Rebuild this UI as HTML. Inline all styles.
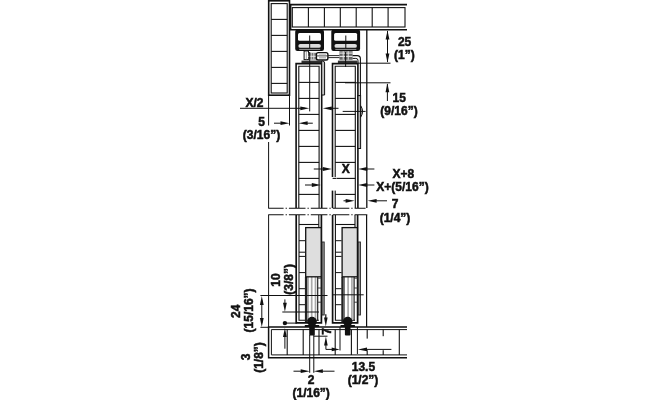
<!DOCTYPE html>
<html><head><meta charset="utf-8"><title>Sliding door fitting dimensions</title>
<style>
html,body{margin:0;padding:0;background:#fff;}
body{width:660px;height:400px;overflow:hidden;}
svg{display:block;}
svg{filter:blur(0.35px);}
svg text{font-family:"Liberation Sans",sans-serif;font-weight:bold;fill:#111;stroke:#111;stroke-width:0.5px;}
</style></head><body>
<svg width="660" height="400" viewBox="0 0 660 400">
<rect x="0" y="0" width="660" height="400" fill="#fff"/>
<rect x="268.7" y="0.8" width="20.8" height="94.4" fill="none" stroke="#111" stroke-width="1.6" rx="0"/>
<rect x="271.2" y="3.6" width="16.0" height="89.4" fill="none" stroke="#111" stroke-width="1.1" rx="0"/>
<line x1="271.2" y1="19.4" x2="287.2" y2="19.4" stroke="#111" stroke-width="1.1" />
<line x1="271.2" y1="35.4" x2="287.2" y2="35.4" stroke="#111" stroke-width="1.1" />
<line x1="271.2" y1="51.4" x2="287.2" y2="51.4" stroke="#111" stroke-width="1.1" />
<line x1="271.2" y1="67.4" x2="287.2" y2="67.4" stroke="#111" stroke-width="1.1" />
<line x1="271.2" y1="83.4" x2="287.2" y2="83.4" stroke="#111" stroke-width="1.1" />
<line x1="268.6" y1="95" x2="268.6" y2="125.5" stroke="#111" stroke-width="1" />
<line x1="268.6" y1="142" x2="268.6" y2="208" stroke="#111" stroke-width="1" />
<line x1="289.5" y1="95" x2="289.5" y2="125.5" stroke="#111" stroke-width="1" />
<line x1="290" y1="4.6" x2="407" y2="4.6" stroke="#111" stroke-width="1.6" />
<line x1="290" y1="29.8" x2="407" y2="29.8" stroke="#111" stroke-width="1.6" />
<line x1="290.6" y1="4" x2="290.6" y2="30" stroke="#111" stroke-width="1.6" />
<rect x="292.3" y="7.6" width="112.7" height="19.4" fill="none" stroke="#111" stroke-width="1.1" rx="0"/>
<line x1="308.4" y1="7.6" x2="308.4" y2="27" stroke="#111" stroke-width="1.1" />
<line x1="324.4" y1="7.6" x2="324.4" y2="27" stroke="#111" stroke-width="1.1" />
<line x1="340.3" y1="7.6" x2="340.3" y2="27" stroke="#111" stroke-width="1.1" />
<line x1="356.2" y1="7.6" x2="356.2" y2="27" stroke="#111" stroke-width="1.1" />
<line x1="372.2" y1="7.6" x2="372.2" y2="27" stroke="#111" stroke-width="1.1" />
<line x1="388.1" y1="7.6" x2="388.1" y2="27" stroke="#111" stroke-width="1.1" />
<rect x="295.2" y="29.6" width="28.8" height="21.4" fill="#111" stroke="#111" stroke-width="0" rx="2.2"/>
<rect x="298.0" y="33.0" width="23.0" height="7.8" fill="#fff" stroke="#111" stroke-width="0" rx="1.5"/>
<rect x="298.4" y="43.9" width="22.4" height="3.9" fill="#ddd" stroke="#111" stroke-width="0" rx="1.9"/>
<line x1="299.2" y1="49.4" x2="320.2" y2="49.4" stroke="#ccc" stroke-width="0.7" />
<line x1="309.7" y1="35.5" x2="309.7" y2="48" stroke="#111" stroke-width="1" />
<rect x="331.3" y="29.6" width="28.8" height="21.4" fill="#111" stroke="#111" stroke-width="0" rx="2.2"/>
<rect x="334.1" y="33.0" width="23.0" height="7.8" fill="#fff" stroke="#111" stroke-width="0" rx="1.5"/>
<rect x="334.5" y="43.9" width="22.4" height="3.9" fill="#ddd" stroke="#111" stroke-width="0" rx="1.9"/>
<line x1="335.3" y1="49.4" x2="356.3" y2="49.4" stroke="#ccc" stroke-width="0.7" />
<line x1="345.8" y1="35.5" x2="345.8" y2="48" stroke="#111" stroke-width="1" />
<rect x="304.1" y="51" width="4.4" height="8.6" fill="#fff" stroke="#111" stroke-width="1" rx="0"/>
<line x1="306.3" y1="51" x2="306.3" y2="59.6" stroke="#888" stroke-width="0.8" />
<rect x="308.5" y="52.8" width="7.8" height="6.8" fill="#777" stroke="#111" stroke-width="0" rx="0"/>
<line x1="308.5" y1="56.3" x2="316.3" y2="56.3" stroke="#fff" stroke-width="0.9" />
<line x1="311.2" y1="52.8" x2="311.2" y2="59.6" stroke="#eee" stroke-width="0.8" />
<line x1="313.8" y1="52.8" x2="313.8" y2="59.6" stroke="#eee" stroke-width="0.8" />
<rect x="339.4" y="51.2" width="13.2" height="8.6" fill="#666" stroke="#111" stroke-width="0" rx="0"/>
<line x1="339.4" y1="53.1" x2="352.6" y2="53.1" stroke="#fff" stroke-width="0.9" />
<line x1="339.4" y1="56.4" x2="352.6" y2="56.4" stroke="#fff" stroke-width="0.9" />
<line x1="343.2" y1="51.2" x2="343.2" y2="59.8" stroke="#eee" stroke-width="0.9" />
<line x1="348.2" y1="51.2" x2="348.2" y2="59.8" stroke="#eee" stroke-width="0.9" />
<rect x="316.4" y="52.6" width="11.5" height="7.4" fill="#fff" stroke="#111" stroke-width="1.4" rx="1.8"/>
<line x1="316.4" y1="55.9" x2="327.9" y2="55.9" stroke="#333" stroke-width="0.9" />
<line x1="319" y1="57.8" x2="326" y2="57.8" stroke="#aaa" stroke-width="1.2" />
<line x1="319" y1="54.2" x2="326" y2="54.2" stroke="#bbb" stroke-width="1.0" />
<line x1="328.2" y1="55.6" x2="339.4" y2="55.6" stroke="#111" stroke-width="0.9" />
<line x1="328.2" y1="57.6" x2="339.4" y2="57.6" stroke="#111" stroke-width="0.9" />
<path d="M352.6 55.6 H357.2 Q360.4 55.6 360.4 58.8 V95.5" fill="none" stroke="#111" stroke-width="1.1"/>
<path d="M352.6 58.4 H355.8 Q358 58.4 358 60.4 V63" fill="none" stroke="#111" stroke-width="1"/>
<rect x="301.5" y="60.6" width="21.3" height="2.4" fill="#333" stroke="#111" stroke-width="0" rx="0"/>
<rect x="337.9" y="60.6" width="19.5" height="2.4" fill="#333" stroke="#111" stroke-width="0" rx="0"/>
<path d="M296.1 208 V63.6 H321.7 V208" fill="none" stroke="#111" stroke-width="1.6"/>
<path d="M298.8 208 V66.2 H319.09999999999997 V208" fill="none" stroke="#111" stroke-width="1.1"/>
<line x1="298.8" y1="82.4" x2="319.09999999999997" y2="82.4" stroke="#111" stroke-width="1.1" />
<line x1="298.8" y1="98.4" x2="319.09999999999997" y2="98.4" stroke="#111" stroke-width="1.1" />
<line x1="298.8" y1="114.4" x2="319.09999999999997" y2="114.4" stroke="#111" stroke-width="1.1" />
<line x1="298.8" y1="130.4" x2="319.09999999999997" y2="130.4" stroke="#111" stroke-width="1.1" />
<line x1="298.8" y1="146.4" x2="319.09999999999997" y2="146.4" stroke="#111" stroke-width="1.1" />
<line x1="298.8" y1="162.4" x2="319.09999999999997" y2="162.4" stroke="#111" stroke-width="1.1" />
<line x1="298.8" y1="178.4" x2="319.09999999999997" y2="178.4" stroke="#111" stroke-width="1.1" />
<line x1="298.8" y1="194.4" x2="319.09999999999997" y2="194.4" stroke="#111" stroke-width="1.1" />
<path d="M332.5 208 V63.6 H357.9 V208" fill="none" stroke="#111" stroke-width="1.6"/>
<path d="M335.2 208 V66.2 H355.29999999999995 V208" fill="none" stroke="#111" stroke-width="1.1"/>
<line x1="335.2" y1="82.4" x2="355.29999999999995" y2="82.4" stroke="#111" stroke-width="1.1" />
<line x1="335.2" y1="98.4" x2="355.29999999999995" y2="98.4" stroke="#111" stroke-width="1.1" />
<line x1="335.2" y1="114.4" x2="355.29999999999995" y2="114.4" stroke="#111" stroke-width="1.1" />
<line x1="335.2" y1="130.4" x2="355.29999999999995" y2="130.4" stroke="#111" stroke-width="1.1" />
<line x1="335.2" y1="146.4" x2="355.29999999999995" y2="146.4" stroke="#111" stroke-width="1.1" />
<line x1="335.2" y1="162.4" x2="355.29999999999995" y2="162.4" stroke="#111" stroke-width="1.1" />
<line x1="335.2" y1="178.4" x2="355.29999999999995" y2="178.4" stroke="#111" stroke-width="1.1" />
<line x1="335.2" y1="194.4" x2="355.29999999999995" y2="194.4" stroke="#111" stroke-width="1.1" />
<rect x="330.8" y="177" width="5.6" height="13.6" fill="#fff" stroke="#111" stroke-width="0" rx="0"/>
<line x1="332.6" y1="178.4" x2="336" y2="178.4" stroke="#111" stroke-width="1.1" />
<line x1="309.7" y1="52" x2="309.7" y2="111.4" stroke="#111" stroke-width="1" />
<line x1="345.6" y1="52" x2="345.6" y2="67" stroke="#111" stroke-width="1" />
<path d="M321.7 61 H322.6 Q324.6 61 324.6 63 V95 H321.7 Z" fill="#c4c4c4" stroke="#111" stroke-width="1"/>
<line x1="358" y1="95.6" x2="360.8" y2="95.6" stroke="#111" stroke-width="1" />
<rect x="358" y="95.6" width="2.6" height="52.9" fill="#b8b8b8" stroke="#111" stroke-width="1" rx="0"/>
<path d="M360.6 105.6 Q364.6 111.4 360.6 117.2 Z" fill="#aaa" stroke="#111" stroke-width="1"/>
<line x1="342.7" y1="111.4" x2="365.6" y2="111.4" stroke="#111" stroke-width="1" />
<line x1="366.8" y1="30" x2="366.8" y2="208" stroke="#111" stroke-width="1.3" />
<line x1="268.2" y1="208.2" x2="365.6" y2="208.2" stroke="#111" stroke-width="1.1" stroke-dasharray="16.6 2 1.3 2" stroke-dashoffset="1.2"/>
<line x1="268.2" y1="214.8" x2="367.3" y2="214.8" stroke="#111" stroke-width="1.1" stroke-dasharray="16.6 2 1.3 2" stroke-dashoffset="1.2"/>
<line x1="268.6" y1="215" x2="268.6" y2="327" stroke="#111" stroke-width="1" />
<line x1="366.6" y1="215" x2="366.6" y2="327" stroke="#111" stroke-width="1.2" />
<path d="M296.2 215 V322.8 H321.4 V215" fill="none" stroke="#111" stroke-width="1.7"/>
<path d="M299.0 215 V320.3 H318.79999999999995 " fill="none" stroke="#111" stroke-width="1.1"/>
<line x1="318.79999999999995" y1="215" x2="318.79999999999995" y2="227.5" stroke="#111" stroke-width="1.1" />
<line x1="299.0" y1="224.5" x2="318.79999999999995" y2="224.5" stroke="#111" stroke-width="1.1" />
<line x1="299.0" y1="240.7" x2="305.2" y2="240.7" stroke="#111" stroke-width="1" />
<line x1="299.0" y1="252.2" x2="305.2" y2="252.2" stroke="#111" stroke-width="1" />
<line x1="299.0" y1="256.4" x2="305.2" y2="256.4" stroke="#111" stroke-width="1" />
<line x1="299.0" y1="272.6" x2="305.2" y2="272.6" stroke="#111" stroke-width="1" />
<line x1="299.0" y1="288.7" x2="305.2" y2="288.7" stroke="#111" stroke-width="1" />
<line x1="299.0" y1="304.7" x2="305.2" y2="304.7" stroke="#111" stroke-width="1" />
<line x1="306.09999999999997" y1="277" x2="306.09999999999997" y2="322" stroke="#222" stroke-width="2.4" />
<line x1="308.09999999999997" y1="277" x2="308.09999999999997" y2="320" stroke="#555" stroke-width="0.8" />
<line x1="311.7" y1="277" x2="311.7" y2="319" stroke="#aaa" stroke-width="1.7" />
<line x1="315.5" y1="277" x2="315.5" y2="319" stroke="#aaa" stroke-width="1.7" />
<line x1="317.7" y1="277" x2="317.7" y2="321" stroke="#222" stroke-width="1.2" />
<line x1="317.7" y1="278.2" x2="321.4" y2="278.2" stroke="#333" stroke-width="0.9" />
<line x1="317.7" y1="288" x2="321.4" y2="288" stroke="#333" stroke-width="0.9" />
<line x1="317.7" y1="302.2" x2="321.4" y2="302.2" stroke="#333" stroke-width="0.9" />
<rect x="305.7" y="227.6" width="15.5" height="49.2" fill="#dedede" stroke="#111" stroke-width="1.3" rx="0"/>
<rect x="322.0" y="242" width="2.2" height="73" fill="#999" stroke="#222" stroke-width="0.9" rx="0"/>
<path d="M332.6 215 V322.8 H357.6 V215" fill="none" stroke="#111" stroke-width="1.7"/>
<path d="M335.40000000000003 215 V320.3 H355.0 " fill="none" stroke="#111" stroke-width="1.1"/>
<line x1="355.0" y1="215" x2="355.0" y2="227.5" stroke="#111" stroke-width="1.1" />
<line x1="335.40000000000003" y1="224.5" x2="355.0" y2="224.5" stroke="#111" stroke-width="1.1" />
<line x1="335.40000000000003" y1="240.7" x2="341.6" y2="240.7" stroke="#111" stroke-width="1" />
<line x1="335.40000000000003" y1="252.2" x2="341.6" y2="252.2" stroke="#111" stroke-width="1" />
<line x1="335.40000000000003" y1="256.4" x2="341.6" y2="256.4" stroke="#111" stroke-width="1" />
<line x1="335.40000000000003" y1="272.6" x2="341.6" y2="272.6" stroke="#111" stroke-width="1" />
<line x1="335.40000000000003" y1="288.7" x2="341.6" y2="288.7" stroke="#111" stroke-width="1" />
<line x1="335.40000000000003" y1="304.7" x2="341.6" y2="304.7" stroke="#111" stroke-width="1" />
<line x1="342.5" y1="277" x2="342.5" y2="322" stroke="#222" stroke-width="2.4" />
<line x1="344.5" y1="277" x2="344.5" y2="320" stroke="#555" stroke-width="0.8" />
<line x1="348.1" y1="277" x2="348.1" y2="319" stroke="#aaa" stroke-width="1.7" />
<line x1="351.90000000000003" y1="277" x2="351.90000000000003" y2="319" stroke="#aaa" stroke-width="1.7" />
<line x1="354.1" y1="277" x2="354.1" y2="321" stroke="#222" stroke-width="1.2" />
<line x1="354.1" y1="278.2" x2="357.6" y2="278.2" stroke="#333" stroke-width="0.9" />
<line x1="354.1" y1="288" x2="357.6" y2="288" stroke="#333" stroke-width="0.9" />
<line x1="354.1" y1="302.2" x2="357.6" y2="302.2" stroke="#333" stroke-width="0.9" />
<rect x="342.1" y="227.6" width="15.3" height="49.2" fill="#dedede" stroke="#111" stroke-width="1.3" rx="0"/>
<rect x="358.20000000000005" y="242" width="2.2" height="73" fill="#999" stroke="#222" stroke-width="0.9" rx="0"/>
<circle cx="312" cy="321.6" r="4.8" fill="#111"/>
<rect x="304.8" y="325" width="14.4" height="2" fill="#111" stroke="#111" stroke-width="0" rx="0"/>
<rect x="309.2" y="326" width="5.6" height="9.5" fill="#111" stroke="#111" stroke-width="0" rx="1"/>
<circle cx="347.7" cy="321.6" r="4.8" fill="#111"/>
<rect x="340.5" y="325" width="14.4" height="2" fill="#111" stroke="#111" stroke-width="0" rx="0"/>
<rect x="344.9" y="326" width="5.6" height="9.5" fill="#111" stroke="#111" stroke-width="0" rx="1"/>
<path d="M407 326.9 H268.6 V357.7 H407" fill="none" stroke="#111" stroke-width="1.5"/>
<path d="M407 329.6 H271.4 V354.9 H407" fill="none" stroke="#111" stroke-width="1.0"/>
<line x1="287.2" y1="329.6" x2="287.2" y2="354.9" stroke="#111" stroke-width="1.1" />
<line x1="303.2" y1="329.6" x2="303.2" y2="354.9" stroke="#111" stroke-width="1.1" />
<line x1="319" y1="329.6" x2="319" y2="354.9" stroke="#111" stroke-width="1.1" />
<line x1="335.2" y1="329.6" x2="335.2" y2="354.9" stroke="#111" stroke-width="1.1" />
<line x1="351.4" y1="329.6" x2="351.4" y2="354.9" stroke="#111" stroke-width="1.1" />
<line x1="367.2" y1="329.6" x2="367.2" y2="354.9" stroke="#111" stroke-width="1.1" />
<line x1="383.2" y1="329.6" x2="383.2" y2="354.9" stroke="#111" stroke-width="1.1" />
<line x1="399.3" y1="329.6" x2="399.3" y2="354.9" stroke="#111" stroke-width="1.1" />
<rect x="366" y="338.6" width="2.4" height="11.6" fill="#fff" stroke="#111" stroke-width="0" rx="0"/>
<rect x="382" y="336.2" width="2.4" height="14" fill="#fff" stroke="#111" stroke-width="0" rx="0"/>
<line x1="309.7" y1="335" x2="309.7" y2="372.8" stroke="#111" stroke-width="1" />
<line x1="313.8" y1="335" x2="313.8" y2="372.8" stroke="#111" stroke-width="1" />
<line x1="340" y1="327" x2="340" y2="350.5" stroke="#111" stroke-width="1" />
<line x1="357.4" y1="327" x2="357.4" y2="354" stroke="#111" stroke-width="1" />
<line x1="387.5" y1="31" x2="387.5" y2="62" stroke="#111" stroke-width="1" />
<polygon points="387.5,30.4 385.6,39.4 389.4,39.4" fill="#111"/>
<polygon points="387.5,62.6 385.6,53.6 389.4,53.6" fill="#111"/>
<line x1="358" y1="63.2" x2="390.5" y2="63.2" stroke="#111" stroke-width="1" />
<line x1="345" y1="82.8" x2="390.5" y2="82.8" stroke="#111" stroke-width="1" />
<line x1="387.4" y1="84" x2="387.4" y2="101" stroke="#111" stroke-width="1" />
<polygon points="387.4,83.3 385.5,92.3 389.29999999999995,92.3" fill="#111"/>
<line x1="240" y1="108.3" x2="305" y2="108.3" stroke="#111" stroke-width="1" />
<polygon points="309.3,108.3 300.3,106.39999999999999 300.3,110.2" fill="#111"/>
<line x1="328" y1="108.3" x2="338.5" y2="108.3" stroke="#111" stroke-width="1" />
<polygon points="322.8,108.3 331.8,106.39999999999999 331.8,110.2" fill="#111"/>
<line x1="274" y1="123.2" x2="285" y2="123.2" stroke="#111" stroke-width="1" />
<polygon points="289.5,123.2 280.5,121.3 280.5,125.10000000000001" fill="#111"/>
<line x1="303" y1="123.2" x2="312.8" y2="123.2" stroke="#111" stroke-width="1" />
<polygon points="298.6,123.2 307.6,121.3 307.6,125.10000000000001" fill="#111"/>
<line x1="313.8" y1="169" x2="325" y2="169" stroke="#111" stroke-width="1" />
<polygon points="331.8,169 322.8,167.1 322.8,170.9" fill="#111"/>
<line x1="365" y1="169" x2="374.4" y2="169" stroke="#111" stroke-width="1" />
<polygon points="358.2,169 367.2,167.1 367.2,170.9" fill="#111"/>
<line x1="305" y1="185" x2="314" y2="185" stroke="#111" stroke-width="1" />
<polygon points="320.8,185 311.8,183.1 311.8,186.9" fill="#111"/>
<line x1="365" y1="185" x2="374.4" y2="185" stroke="#111" stroke-width="1" />
<polygon points="358.2,185 367.2,183.1 367.2,186.9" fill="#111"/>
<line x1="343.5" y1="200.8" x2="349" y2="200.8" stroke="#111" stroke-width="1" />
<polygon points="354.6,200.8 345.6,198.9 345.6,202.70000000000002" fill="#111"/>
<line x1="374" y1="200.8" x2="387" y2="200.8" stroke="#111" stroke-width="1" />
<polygon points="367.6,200.8 376.6,198.9 376.6,202.70000000000002" fill="#111"/>
<line x1="260.4" y1="295.5" x2="327.5" y2="295.5" stroke="#111" stroke-width="1" />
<line x1="333" y1="294.8" x2="363.7" y2="294.8" stroke="#111" stroke-width="1" />
<line x1="260.4" y1="327.3" x2="268.6" y2="327.3" stroke="#111" stroke-width="1" />
<line x1="261.8" y1="300" x2="261.8" y2="323" stroke="#111" stroke-width="1" />
<polygon points="261.8,296 259.90000000000003,305 263.7,305" fill="#111"/>
<polygon points="261.8,326.9 259.90000000000003,317.9 263.7,317.9" fill="#111"/>
<line x1="282.3" y1="312" x2="319" y2="312" stroke="#111" stroke-width="1" />
<line x1="284.9" y1="299.4" x2="284.9" y2="306" stroke="#111" stroke-width="1" />
<polygon points="284.9,311.7 283.0,302.7 286.79999999999995,302.7" fill="#111"/>
<circle cx="284.9" cy="323.1" r="2.2" fill="#111"/>
<line x1="284.9" y1="323.1" x2="297" y2="323.1" stroke="#111" stroke-width="1" />
<line x1="284.9" y1="334" x2="284.9" y2="348.7" stroke="#111" stroke-width="1" />
<polygon points="284.9,328 283.0,337 286.79999999999995,337" fill="#111"/>
<polygon points="325.8,326.6 324.0,317.40000000000003 327.6,317.40000000000003" fill="#111"/>
<line x1="325.8" y1="314.2" x2="325.8" y2="318" stroke="#111" stroke-width="1.2" />
<line x1="313.8" y1="336.2" x2="327.5" y2="336.2" stroke="#111" stroke-width="1" />
<polygon points="325.9,336.4 324.09999999999997,345.59999999999997 327.7,345.59999999999997" fill="#111"/>
<path d="M325.9 345 V349.4 H333" fill="none" stroke="#111" stroke-width="1"/>
<polygon points="339.7,349.4 331.7,347.5 331.7,351.29999999999995" fill="#111"/>
<line x1="366" y1="349.4" x2="391.4" y2="349.4" stroke="#111" stroke-width="1" />
<polygon points="358,349.4 367,347.5 367,351.29999999999995" fill="#111"/>
<line x1="293.5" y1="371.2" x2="303" y2="371.2" stroke="#111" stroke-width="1" />
<polygon points="309.7,371.2 300.7,369.3 300.7,373.09999999999997" fill="#111"/>
<line x1="320" y1="371.2" x2="334.5" y2="371.2" stroke="#111" stroke-width="1" />
<polygon points="313.8,371.2 322.8,369.3 322.8,373.09999999999997" fill="#111"/>
<text x="404.6" y="45.6" text-anchor="middle" font-size="12.0">25</text>
<text x="404.4" y="58.8" text-anchor="middle" font-size="12.0">(1”)</text>
<text x="399.3" y="101.8" text-anchor="middle" font-size="12.0">15</text>
<text x="399" y="114.8" text-anchor="middle" font-size="12.0">(9/16”)</text>
<text x="254.5" y="106.8" text-anchor="middle" font-size="12.0">X/2</text>
<text x="261.5" y="125.6" text-anchor="middle" font-size="12.0">5</text>
<text x="261.5" y="139.2" text-anchor="middle" font-size="12.0">(3/16”)</text>
<text x="345.8" y="173" text-anchor="middle" font-size="12.0">X</text>
<text x="403.4" y="178" text-anchor="middle" font-size="12.0">X+8</text>
<text x="402.5" y="191.4" text-anchor="middle" font-size="12.0">X+(5/16”)</text>
<text x="395.2" y="208" text-anchor="middle" font-size="12.0">7</text>
<text x="395" y="221.6" text-anchor="middle" font-size="12.0">(1/4”)</text>
<text x="363.4" y="371.4" text-anchor="middle" font-size="12.0">13.5</text>
<text x="363" y="384.4" text-anchor="middle" font-size="12.0">(1/2”)</text>
<text x="311.2" y="384.4" text-anchor="middle" font-size="12.0">2</text>
<text x="311.2" y="397.4" text-anchor="middle" font-size="12.0">(1/16”)</text>
<text x="239.8" y="311.2" text-anchor="middle" font-size="12.0" transform="rotate(-90 239.8 311.2)">24</text>
<text x="252.6" y="310.4" text-anchor="middle" font-size="12.0" transform="rotate(-90 252.6 310.4)">(15/16”)</text>
<text x="249.8" y="356.9" text-anchor="middle" font-size="12.0" transform="rotate(-90 249.8 356.9)">3</text>
<text x="263" y="357.5" text-anchor="middle" font-size="12.0" transform="rotate(-90 263 357.5)">(1/8”)</text>
<text x="280.2" y="280.1" text-anchor="middle" font-size="12.0" transform="rotate(-90 280.2 280.1)">10</text>
<text x="293" y="279.3" text-anchor="middle" font-size="12.0" transform="rotate(-90 293 279.3)">(3/8”)</text>
<text x="330.6" y="331.4" text-anchor="middle" font-size="12.0" transform="rotate(-90 330.6 331.4)">7</text>
</svg>
</body></html>
